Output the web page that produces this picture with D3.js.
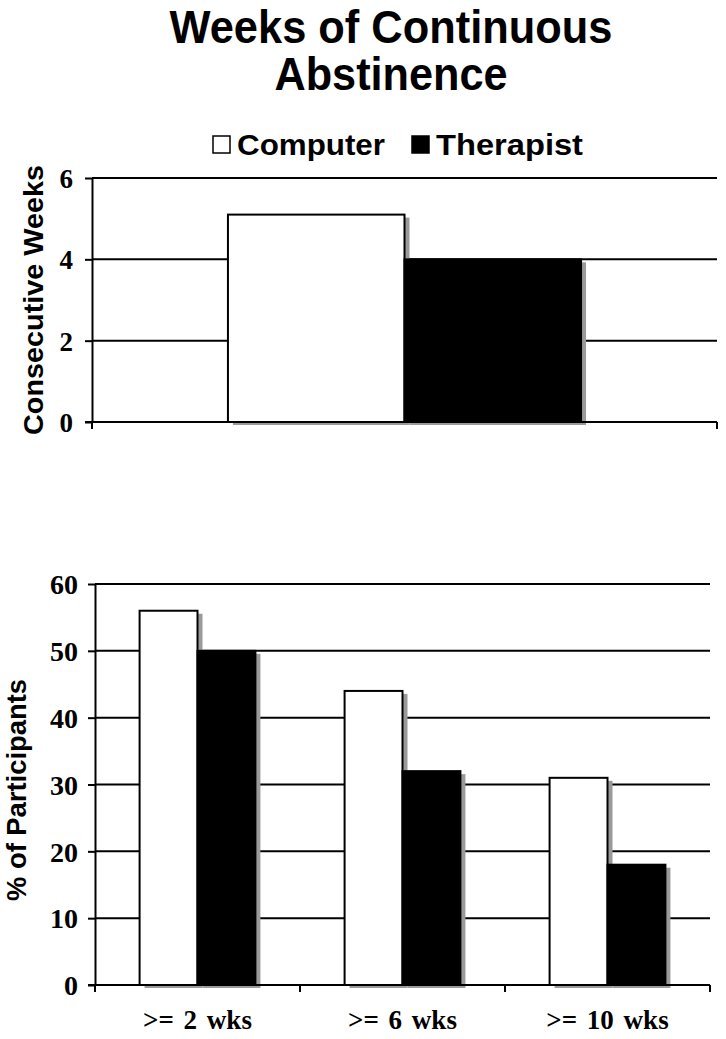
<!DOCTYPE html>
<html>
<head>
<meta charset="utf-8">
<script src="https://cdn.jsdelivr.net/npm/d3@7"></script>
<style>
  body { margin: 0; background: #fff; }
  svg { display: block; }
</style>
</head>
<body>
<div id="chart"></div>
<script>
// ---- data
const groups = ["Computer", "Therapist"];
const groupFill = ["#ffffff", "#000000"];

const weeksCategory = ["all"];
const weeksValues = [5.1, 4.0];          // consecutive weeks
const weeksTicks = [0, 2, 4, 6];

const pctCategories = [">= 2 wks", ">= 6 wks", ">= 10 wks"];
const pctComputer = [56, 44, 31];
const pctTherapist = [50, 32, 18];
const pctTicks = [0, 10, 20, 30, 40, 50, 60];

// -----------------------------------------------------------
var W = 726, H = 1039;
var SANS = "'Liberation Sans', Arial, sans-serif";
var SERIF = "'Liberation Serif', 'Times New Roman', serif";

var svg = d3.select("#chart").append("svg")
    .attr("width", W)
    .attr("height", H);

/// ----------------------- TITLE + LEGEND
svg.append("text")
    .attr("x", 391).attr("y", 43)
    .attr("text-anchor", "middle")
    .attr("font-family", SANS).attr("font-weight", "bold")
    .attr("font-size", "46px")
    .attr("textLength", 443).attr("lengthAdjust", "spacingAndGlyphs")
    .text("Weeks of Continuous");

svg.append("text")
    .attr("x", 391).attr("y", 90)
    .attr("text-anchor", "middle")
    .attr("font-family", SANS).attr("font-weight", "bold")
    .attr("font-size", "46px")
    .attr("textLength", 233).attr("lengthAdjust", "spacingAndGlyphs")
    .text("Abstinence");

var legendX = [213, 412];
var legendW = [148, 147];
groups.forEach(function(g, i) {
    svg.append("rect")
        .attr("x", legendX[i]).attr("y", 136)
        .attr("width", 17).attr("height", 17)
        .attr("fill", groupFill[i])
        .attr("stroke", "#000").attr("stroke-width", 1.5);
    svg.append("text")
        .attr("x", legendX[i] + 24).attr("y", 155)
        .attr("font-family", SANS).attr("font-weight", "bold")
        .attr("font-size", "29px")
        .attr("textLength", legendW[i]).attr("lengthAdjust", "spacingAndGlyphs")
        .text(g);
});

// helper: draw one bar panel
function drawPanel(opt) {
    var g = svg.append("g");
    var x0 = d3.scaleBand().domain(opt.categories).range([opt.left, opt.right]);
    var x1 = d3.scaleBand().domain(groups).range([0, x0.bandwidth()])
        .paddingInner(0).paddingOuter(0.77);
    var y = d3.scaleLinear().domain([0, d3.max(opt.ticks)]).range([opt.bottom, opt.top]);

    // gridlines (not at 0)
    g.selectAll(".grid").data(opt.ticks.filter(function(t) { return t > 0; }))
        .enter().append("line")
        .attr("x1", opt.left).attr("x2", opt.right)
        .attr("y1", function(d) { return y(d); })
        .attr("y2", function(d) { return y(d); })
        .attr("stroke", "#000").attr("stroke-width", 2);

    var bars = [];
    opt.categories.forEach(function(c, ci) {
        groups.forEach(function(gr, gi) {
            bars.push({ cat: c, grp: gr, gi: gi, v: opt.values[gi][ci] });
        });
    });

    // drop shadows
    g.selectAll(".shadow").data(bars).enter().append("rect")
        .attr("x", function(d) { return x0(d.cat) + x1(d.grp) + 5; })
        .attr("y", function(d) { return y(d.v) + 3; })
        .attr("width", x1.bandwidth())
        .attr("height", function(d) { return opt.bottom - y(d.v); })
        .attr("fill", "#9a9a9a");

    g.selectAll(".bar").data(bars).enter().append("rect")
        .attr("x", function(d) { return x0(d.cat) + x1(d.grp); })
        .attr("y", function(d) { return y(d.v); })
        .attr("width", x1.bandwidth())
        .attr("height", function(d) { return opt.bottom - y(d.v); })
        .attr("fill", function(d) { return groupFill[d.gi]; })
        .attr("stroke", "#000").attr("stroke-width", 2);

    // y axis
    var yAxis = d3.axisLeft(y).tickValues(opt.ticks).tickSize(7).tickSizeOuter(0)
        .tickPadding(opt.tickPad).tickFormat(d3.format("d"));
    var ya = g.append("g").attr("transform", "translate(" + opt.left + ",0)").call(yAxis);
    ya.select(".domain").attr("stroke-width", 2);
    ya.selectAll(".tick line").attr("stroke-width", 2);
    ya.selectAll(".tick text")
        .attr("font-family", SERIF).attr("font-weight", "bold")
        .attr("font-size", opt.tickFont).attr("fill", "#000")
        .attr("dy", "0.35em");

    // x axis line + boundary ticks
    g.append("line")
        .attr("x1", opt.left - 7).attr("x2", opt.right)
        .attr("y1", opt.bottom).attr("y2", opt.bottom)
        .attr("stroke", "#000").attr("stroke-width", 2);
    var edges = opt.categories.map(function(c) { return x0(c); }).concat([x0.range()[1]]);
    g.selectAll(".xt").data(edges).enter().append("line")
        .attr("x1", function(d) { return d; }).attr("x2", function(d) { return d; })
        .attr("y1", opt.bottom).attr("y2", opt.bottom + 7)
        .attr("stroke", "#000").attr("stroke-width", 2);

    if (opt.showLabels) {
        g.selectAll(".xl").data(opt.categories).enter().append("text")
            .attr("x", function(d) { return x0(d) + x0.bandwidth() / 2; })
            .attr("y", opt.bottom + 44)
            .attr("text-anchor", "middle")
            .attr("font-family", SERIF).attr("font-weight", "bold")
            .attr("font-size", "27px")
            .attr("word-spacing", "3px")
            .text(function(d) { return d; });
    }

    // y title
    g.append("text")
        .attr("transform", "translate(" + opt.titleX + "," + opt.titleY + ") rotate(-90)")
        .attr("text-anchor", "middle")
        .attr("font-family", SANS).attr("font-weight", "bold")
        .attr("font-size", "28px")
        .attr("textLength", opt.titleLen).attr("lengthAdjust", "spacingAndGlyphs")
        .text(opt.title);
}

drawPanel({
    categories: weeksCategory,
    values: [[weeksValues[0]], [weeksValues[1]]],
    ticks: weeksTicks,
    left: 92, right: 717, top: 178, bottom: 422,
    tickPad: 12, tickFont: "27px",
    showLabels: false,
    title: "Consecutive Weeks", titleX: 43, titleY: 300, titleLen: 270
});

drawPanel({
    categories: pctCategories,
    values: [pctComputer, pctTherapist],
    ticks: pctTicks,
    left: 95, right: 710, top: 584, bottom: 985,
    tickPad: 10, tickFont: "28px",
    showLabels: true,
    title: "% of Participants", titleX: 26, titleY: 790, titleLen: 222
});
</script>
</body>
</html>
